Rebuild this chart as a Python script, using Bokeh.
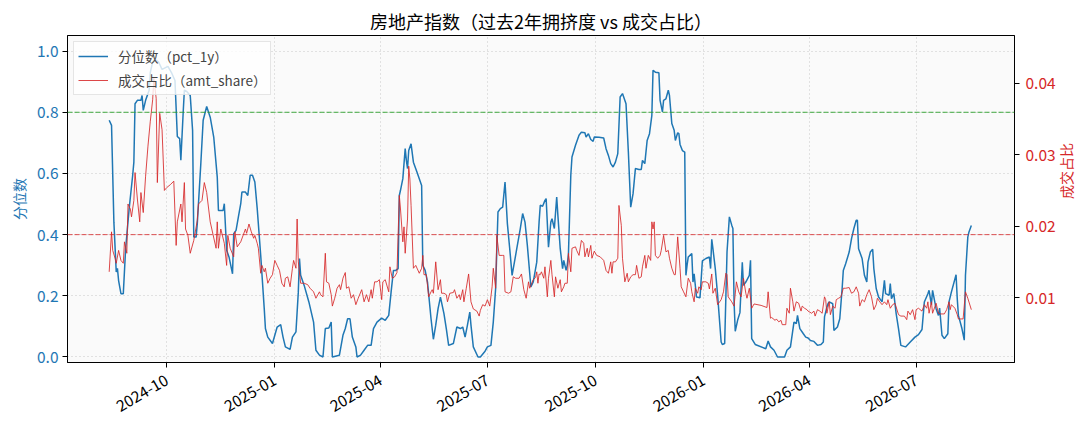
import math
import pandas as pd
from bokeh.plotting import figure
from bokeh.models import (Range1d, LinearAxis, FixedTicker, NumeralTickFormatter,
                          DatetimeTickFormatter, Span, Legend, LegendItem)
from bokeh.embed import file_html
from bokeh.resources import INLINE

FONT = "Noto Sans CJK SC"

# 分位数 (pct_1y)
pct_dates = [
    "2024-08-13", "2024-08-15", "2024-08-17", "2024-08-19", "2024-08-20", "2024-08-21", "2024-08-23",
    "2024-08-25", "2024-08-27", "2024-08-28", "2024-08-30", "2024-09-02", "2024-09-03", "2024-09-04",
    "2024-09-06", "2024-09-09", "2024-09-10", "2024-09-11", "2024-09-13", "2024-09-16", "2024-09-17",
    "2024-09-19", "2024-09-21", "2024-09-24", "2024-09-27", "2024-10-02", "2024-10-05", "2024-10-08",
    "2024-10-10", "2024-10-12", "2024-10-13", "2024-10-15", "2024-10-16", "2024-10-18", "2024-10-21",
    "2024-10-23", "2024-10-24", "2024-10-26", "2024-10-27", "2024-10-30", "2024-11-01", "2024-11-04",
    "2024-11-07", "2024-11-10", "2024-11-13", "2024-11-14", "2024-11-18", "2024-11-19", "2024-11-21",
    "2024-11-23", "2024-11-26", "2024-11-27", "2024-11-29", "2024-12-01", "2024-12-03", "2024-12-04",
    "2024-12-07", "2024-12-09", "2024-12-11", "2024-12-13", "2024-12-15", "2024-12-17", "2024-12-20",
    "2024-12-23", "2024-12-24", "2024-12-26", "2024-12-30", "2025-01-01", "2025-01-03", "2025-01-06",
    "2025-01-08", "2025-01-10", "2025-01-14", "2025-01-16", "2025-01-19", "2025-01-21", "2025-01-22",
    "2025-01-23", "2025-01-26", "2025-01-30", "2025-02-03", "2025-02-05", "2025-02-08", "2025-02-11",
    "2025-02-13", "2025-02-16", "2025-02-18", "2025-02-19", "2025-02-25", "2025-02-28", "2025-03-02",
    "2025-03-04", "2025-03-06", "2025-03-08", "2025-03-11", "2025-03-12", "2025-03-15", "2025-03-18",
    "2025-03-21", "2025-03-24", "2025-03-26", "2025-03-29", "2025-04-02", "2025-04-05", "2025-04-08",
    "2025-04-10", "2025-04-12", "2025-04-14", "2025-04-16", "2025-04-17", "2025-04-18", "2025-04-20",
    "2025-04-22", "2025-04-23", "2025-04-24", "2025-04-25", "2025-04-27", "2025-04-29", "2025-05-02",
    "2025-05-06", "2025-05-07", "2025-05-09", "2025-05-11", "2025-05-14", "2025-05-16", "2025-05-18",
    "2025-05-20", "2025-05-22", "2025-05-25", "2025-05-27", "2025-05-29", "2025-06-02", "2025-06-05",
    "2025-06-08", "2025-06-10", "2025-06-12", "2025-06-14", "2025-06-16", "2025-06-17", "2025-06-19",
    "2025-06-23", "2025-06-25", "2025-06-29", "2025-07-01", "2025-07-04", "2025-07-06", "2025-07-08",
    "2025-07-10", "2025-07-12", "2025-07-14", "2025-07-16", "2025-07-18", "2025-07-20", "2025-07-22",
    "2025-07-24", "2025-07-26", "2025-07-29", "2025-07-31", "2025-08-02", "2025-08-04", "2025-08-07",
    "2025-08-09", "2025-08-12", "2025-08-14", "2025-08-15", "2025-08-17", "2025-08-19", "2025-08-20",
    "2025-08-22", "2025-08-24", "2025-08-25", "2025-08-27", "2025-08-29", "2025-08-30", "2025-09-01",
    "2025-09-03", "2025-09-04", "2025-09-06", "2025-09-07", "2025-09-08", "2025-09-10", "2025-09-11",
    "2025-09-14", "2025-09-17", "2025-09-19", "2025-09-22", "2025-09-23", "2025-09-25", "2025-09-27",
    "2025-09-29", "2025-09-30", "2025-10-04", "2025-10-08", "2025-10-10", "2025-10-12", "2025-10-14",
    "2025-10-16", "2025-10-18", "2025-10-20", "2025-10-22", "2025-10-24", "2025-10-27", "2025-10-29",
    "2025-10-31", "2025-11-02", "2025-11-04", "2025-11-07", "2025-11-09", "2025-11-10", "2025-11-12",
    "2025-11-14", "2025-11-16", "2025-11-18", "2025-11-19", "2025-11-21", "2025-11-24", "2025-11-25",
    "2025-11-27", "2025-11-28", "2025-11-30", "2025-12-02", "2025-12-03", "2025-12-05", "2025-12-07",
    "2025-12-08", "2025-12-10", "2025-12-11", "2025-12-12", "2025-12-14", "2025-12-16", "2025-12-17",
    "2025-12-18", "2025-12-19", "2025-12-22", "2025-12-23", "2025-12-24", "2025-12-26", "2025-12-29",
    "2025-12-31", "2026-01-03", "2026-01-06", "2026-01-07", "2026-01-08", "2026-01-09", "2026-01-11",
    "2026-01-13", "2026-01-16", "2026-01-17", "2026-01-19", "2026-01-21", "2026-01-23", "2026-01-25",
    "2026-01-26", "2026-01-27", "2026-01-28", "2026-01-30", "2026-02-01", "2026-02-03", "2026-02-04",
    "2026-02-06", "2026-02-09", "2026-02-10", "2026-02-11", "2026-02-14", "2026-02-23", "2026-02-25",
    "2026-02-27", "2026-03-02", "2026-03-05", "2026-03-11", "2026-03-13", "2026-03-16", "2026-03-19",
    "2026-03-21", "2026-03-22", "2026-03-24", "2026-03-27", "2026-03-29", "2026-03-31", "2026-04-02",
    "2026-04-05", "2026-04-08", "2026-04-11", "2026-04-13", "2026-04-14", "2026-04-16", "2026-04-17",
    "2026-04-18", "2026-04-21", "2026-04-22", "2026-04-25", "2026-04-27", "2026-04-29", "2026-04-30",
    "2026-05-02", "2026-05-05", "2026-05-07", "2026-05-09", "2026-05-11", "2026-05-12", "2026-05-13",
    "2026-05-16", "2026-05-18", "2026-05-20", "2026-05-21", "2026-05-23", "2026-05-25", "2026-05-26",
    "2026-05-28", "2026-05-30", "2026-05-31", "2026-06-02", "2026-06-04", "2026-06-05", "2026-06-08",
    "2026-06-09", "2026-06-10", "2026-06-12", "2026-06-14", "2026-06-16", "2026-06-18", "2026-06-22",
    "2026-06-26", "2026-06-30", "2026-07-03", "2026-07-06", "2026-07-08", "2026-07-11", "2026-07-12",
    "2026-07-14", "2026-07-15", "2026-07-18", "2026-07-20", "2026-07-21", "2026-07-23", "2026-07-25",
    "2026-07-28", "2026-07-29", "2026-07-31", "2026-08-04", "2026-08-05", "2026-08-06", "2026-08-09",
    "2026-08-11", "2026-08-12", "2026-08-14", "2026-08-15", "2026-08-17",
]
pct_1y = [
    0.774, 0.757, 0.44, 0.278, 0.29, 0.25, 0.207,
    0.207, 0.355, 0.398, 0.485, 0.594, 0.637, 0.828,
    0.839, 0.839, 0.855, 0.806, 0.839, 0.872, 0.93,
    0.965, 0.972, 0.965, 0.94, 0.95, 0.93, 0.904,
    0.721, 0.714, 0.643, 0.80, 0.872, 0.868, 0.855,
    0.741, 0.392, 0.392, 0.436, 0.632, 0.774, 0.819,
    0.784, 0.719, 0.588, 0.479, 0.479, 0.501, 0.349,
    0.327, 0.272, 0.403, 0.414, 0.458, 0.501, 0.539,
    0.539, 0.528, 0.594, 0.594, 0.572, 0.486, 0.332,
    0.158, 0.093, 0.065, 0.044, 0.071, 0.098, 0.106,
    0.065, 0.033, 0.025, 0.065, 0.082, 0.212, 0.322,
    0.267, 0.234, 0.18, 0.114, 0.022, 0.006, 0.0,
    0.093, 0.095, 0.114, 0.0, 0.006, 0.071, 0.093,
    0.125, 0.125, 0.065, 0.033, 0.0, 0.006, 0.022,
    0.038, 0.038, 0.093, 0.114, 0.127, 0.12, 0.136,
    0.212, 0.283, 0.283, 0.289, 0.528, 0.545, 0.583,
    0.681, 0.643, 0.616, 0.675, 0.697, 0.637, 0.605,
    0.561, 0.3, 0.283, 0.245, 0.125, 0.058, 0.104,
    0.158, 0.196, 0.142, 0.093, 0.038, 0.044, 0.098,
    0.093, 0.098, 0.065, 0.104, 0.147, 0.104, 0.033,
    0.0, 0.0, 0.019, 0.033, 0.038, 0.114, 0.224,
    0.474, 0.485, 0.49, 0.572, 0.436, 0.354, 0.267,
    0.31, 0.354, 0.42, 0.469, 0.441, 0.365, 0.229,
    0.245, 0.31, 0.441, 0.496, 0.493, 0.512, 0.518,
    0.359, 0.441, 0.452, 0.42, 0.523, 0.463, 0.354,
    0.289, 0.316, 0.283, 0.3, 0.338, 0.594, 0.654,
    0.692, 0.725, 0.735, 0.733, 0.719, 0.73, 0.711,
    0.705, 0.719, 0.718, 0.716, 0.681, 0.659, 0.632,
    0.621, 0.637, 0.665, 0.85, 0.861, 0.828, 0.67,
    0.49, 0.534, 0.616, 0.613, 0.613, 0.643, 0.632,
    0.708, 0.73, 0.79, 0.937, 0.931, 0.929, 0.839,
    0.801, 0.839, 0.844, 0.872, 0.855, 0.763, 0.741,
    0.708, 0.733, 0.73, 0.695, 0.675, 0.67, 0.267,
    0.3, 0.327, 0.338, 0.245, 0.272, 0.196, 0.194,
    0.314, 0.322, 0.327, 0.289, 0.385, 0.354, 0.289,
    0.202, 0.049, 0.041, 0.044, 0.343, 0.458, 0.431,
    0.42, 0.18, 0.084, 0.12, 0.145, 0.31, 0.234,
    0.245, 0.267, 0.316, 0.06, 0.041, 0.027, 0.052,
    0.033, 0.022, 0.0, 0.0, 0.022, 0.033, 0.114,
    0.109, 0.136, 0.093, 0.076, 0.065, 0.062, 0.054,
    0.051, 0.038, 0.041, 0.049, 0.131, 0.163, 0.174,
    0.18, 0.174, 0.087, 0.098, 0.125, 0.224, 0.283,
    0.305, 0.343, 0.387, 0.42, 0.447, 0.447, 0.354,
    0.322, 0.267, 0.245, 0.31, 0.343, 0.352, 0.289,
    0.224, 0.196, 0.191, 0.18, 0.251, 0.207, 0.202,
    0.24, 0.191, 0.207, 0.142, 0.093, 0.038, 0.033,
    0.049, 0.065, 0.073, 0.09, 0.18, 0.207, 0.218,
    0.171, 0.218, 0.158, 0.136, 0.16, 0.071, 0.06,
    0.076, 0.18, 0.212, 0.269, 0.191, 0.136, 0.093,
    0.055, 0.267, 0.392, 0.409, 0.43,
]

# 成交占比 (amt_share)
amt_dates = [
    "2024-08-13", "2024-08-15", "2024-08-16", "2024-08-18", "2024-08-19", "2024-08-21", "2024-08-23",
    "2024-08-25", "2024-08-26", "2024-08-28", "2024-08-29", "2024-08-31", "2024-09-01", "2024-09-03",
    "2024-09-04", "2024-09-06", "2024-09-08", "2024-09-09", "2024-09-11", "2024-09-13", "2024-09-15",
    "2024-09-17", "2024-09-19", "2024-09-20", "2024-09-22", "2024-09-23", "2024-09-25", "2024-09-27",
    "2024-09-29", "2024-10-01", "2024-10-04", "2024-10-07", "2024-10-09", "2024-10-10", "2024-10-13",
    "2024-10-14", "2024-10-16", "2024-10-17", "2024-10-19", "2024-10-21", "2024-10-24", "2024-10-27",
    "2024-10-28", "2024-10-31", "2024-11-02", "2024-11-04", "2024-11-07", "2024-11-12", "2024-11-13",
    "2024-11-14", "2024-11-16", "2024-11-19", "2024-11-21", "2024-11-22", "2024-11-24", "2024-11-27",
    "2024-11-28", "2024-11-30", "2024-12-03", "2024-12-05", "2024-12-07", "2024-12-08", "2024-12-10",
    "2024-12-12", "2024-12-14", "2024-12-15", "2024-12-17", "2024-12-18", "2024-12-20", "2024-12-21",
    "2024-12-23", "2024-12-24", "2024-12-26", "2024-12-28", "2024-12-30", "2025-01-01", "2025-01-03",
    "2025-01-05", "2025-01-07", "2025-01-09", "2025-01-10", "2025-01-12", "2025-01-14", "2025-01-16",
    "2025-01-17", "2025-01-19", "2025-01-20", "2025-01-21", "2025-01-23", "2025-01-26", "2025-01-29",
    "2025-01-31", "2025-02-03", "2025-02-05", "2025-02-08", "2025-02-09", "2025-02-11", "2025-02-13",
    "2025-02-14", "2025-02-16", "2025-02-18", "2025-02-19", "2025-02-21", "2025-02-23", "2025-02-25",
    "2025-02-26", "2025-02-28", "2025-03-02", "2025-03-03", "2025-03-05", "2025-03-07", "2025-03-09",
    "2025-03-11", "2025-03-13", "2025-03-16", "2025-03-18", "2025-03-20", "2025-03-22", "2025-03-24",
    "2025-03-25", "2025-03-27", "2025-03-29", "2025-03-31", "2025-04-02", "2025-04-03", "2025-04-05",
    "2025-04-08", "2025-04-09", "2025-04-11", "2025-04-13", "2025-04-15", "2025-04-17", "2025-04-18",
    "2025-04-20", "2025-04-21", "2025-04-22", "2025-04-24", "2025-04-25", "2025-04-26", "2025-04-27",
    "2025-04-29", "2025-05-01", "2025-05-04", "2025-05-06", "2025-05-07", "2025-05-08", "2025-05-10",
    "2025-05-12", "2025-05-14", "2025-05-15", "2025-05-16", "2025-05-18", "2025-05-20", "2025-05-22",
    "2025-05-23", "2025-05-25", "2025-05-27", "2025-05-28", "2025-05-30", "2025-06-02", "2025-06-03",
    "2025-06-05", "2025-06-07", "2025-06-08", "2025-06-10", "2025-06-11", "2025-06-13", "2025-06-15",
    "2025-06-17", "2025-06-19", "2025-06-22", "2025-06-24", "2025-06-25", "2025-06-27", "2025-06-29",
    "2025-07-01", "2025-07-03", "2025-07-05", "2025-07-06", "2025-07-08", "2025-07-09", "2025-07-11",
    "2025-07-14", "2025-07-15", "2025-07-16", "2025-07-19", "2025-07-21", "2025-07-23", "2025-07-25",
    "2025-07-28", "2025-07-30", "2025-08-01", "2025-08-03", "2025-08-05", "2025-08-06", "2025-08-09",
    "2025-08-11", "2025-08-12", "2025-08-13", "2025-08-14", "2025-08-15", "2025-08-16", "2025-08-18",
    "2025-08-19", "2025-08-21", "2025-08-22", "2025-08-24", "2025-08-25", "2025-08-27", "2025-08-28",
    "2025-08-30", "2025-09-01", "2025-09-02", "2025-09-04", "2025-09-05", "2025-09-07", "2025-09-08",
    "2025-09-10", "2025-09-11", "2025-09-14", "2025-09-15", "2025-09-17", "2025-09-19", "2025-09-21",
    "2025-09-22", "2025-09-24", "2025-09-25", "2025-09-27", "2025-09-28", "2025-09-30", "2025-10-02",
    "2025-10-05", "2025-10-08", "2025-10-10", "2025-10-12", "2025-10-14", "2025-10-15", "2025-10-16",
    "2025-10-18", "2025-10-20", "2025-10-21", "2025-10-23", "2025-10-24", "2025-10-26", "2025-10-28",
    "2025-10-29", "2025-10-31", "2025-11-02", "2025-11-04", "2025-11-05", "2025-11-07", "2025-11-09",
    "2025-11-10", "2025-11-12", "2025-11-13", "2025-11-15", "2025-11-17", "2025-11-18", "2025-11-19",
    "2025-11-20", "2025-11-21", "2025-11-23", "2025-11-25", "2025-11-26", "2025-11-28", "2025-11-30",
    "2025-12-02", "2025-12-03", "2025-12-05", "2025-12-07", "2025-12-08", "2025-12-10", "2025-12-12",
    "2025-12-13", "2025-12-15", "2025-12-17", "2025-12-19", "2025-12-21", "2025-12-22", "2025-12-24",
    "2025-12-25", "2025-12-27", "2025-12-28", "2025-12-30", "2025-12-31", "2026-01-03", "2026-01-05",
    "2026-01-06", "2026-01-08", "2026-01-09", "2026-01-11", "2026-01-13", "2026-01-16", "2026-01-18",
    "2026-01-20", "2026-01-21", "2026-01-22", "2026-01-25", "2026-01-27", "2026-01-29", "2026-01-31",
    "2026-02-02", "2026-02-04", "2026-02-06", "2026-02-07", "2026-02-09", "2026-02-11", "2026-02-13",
    "2026-02-19", "2026-02-24", "2026-02-25", "2026-02-27", "2026-02-28", "2026-03-03", "2026-03-04",
    "2026-03-06", "2026-03-08", "2026-03-09", "2026-03-12", "2026-03-13", "2026-03-15", "2026-03-16",
    "2026-03-18", "2026-03-19", "2026-03-21", "2026-03-23", "2026-03-25", "2026-03-26", "2026-03-28",
    "2026-03-30", "2026-03-31", "2026-04-03", "2026-04-05", "2026-04-06", "2026-04-08", "2026-04-10",
    "2026-04-12", "2026-04-14", "2026-04-15", "2026-04-16", "2026-04-18", "2026-04-19", "2026-04-21",
    "2026-04-23", "2026-04-24", "2026-04-26", "2026-04-28", "2026-04-30", "2026-05-02", "2026-05-05",
    "2026-05-07", "2026-05-09", "2026-05-11", "2026-05-13", "2026-05-14", "2026-05-16", "2026-05-18",
    "2026-05-20", "2026-05-22", "2026-05-24", "2026-05-26", "2026-05-28", "2026-05-29", "2026-05-31",
    "2026-06-02", "2026-06-04", "2026-06-06", "2026-06-07", "2026-06-09", "2026-06-11", "2026-06-13",
    "2026-06-16", "2026-06-18", "2026-06-21", "2026-06-23", "2026-06-24", "2026-06-26", "2026-06-28",
    "2026-06-30", "2026-07-01", "2026-07-03", "2026-07-06", "2026-07-08", "2026-07-10", "2026-07-11",
    "2026-07-12", "2026-07-14", "2026-07-15", "2026-07-18", "2026-07-20", "2026-07-22", "2026-07-25",
    "2026-07-27", "2026-07-29", "2026-07-30", "2026-07-31", "2026-08-03", "2026-08-05", "2026-08-06",
    "2026-08-10", "2026-08-12", "2026-08-14", "2026-08-17",
]
amt_share = [
    0.0136, 0.0192, 0.0166, 0.0155, 0.0148, 0.0166, 0.0152,
    0.0148, 0.0178, 0.0162, 0.0231, 0.0224, 0.0213, 0.0236,
    0.0275, 0.0238, 0.0206, 0.0247, 0.0219, 0.027, 0.0312,
    0.0347, 0.0377, 0.0407, 0.0379, 0.0261, 0.0358, 0.0335,
    0.025, 0.0254, 0.0258, 0.0263, 0.0173, 0.0206, 0.0231,
    0.0206, 0.0261, 0.0196, 0.0187, 0.0162, 0.018, 0.0208,
    0.0231, 0.0236, 0.0261, 0.0247, 0.0206, 0.0169, 0.0206,
    0.0169, 0.0196, 0.0176, 0.0145, 0.0187, 0.0169, 0.0157,
    0.0192, 0.0171, 0.0178, 0.0187, 0.0196, 0.019, 0.0203,
    0.0192, 0.0183, 0.0187, 0.0176, 0.0169, 0.0134, 0.0145,
    0.0136, 0.0141, 0.012, 0.0127, 0.0132, 0.0152, 0.0145,
    0.0138, 0.012, 0.0115, 0.0127, 0.0129, 0.0115, 0.0141,
    0.0152, 0.0141, 0.021, 0.015, 0.012, 0.012, 0.0118,
    0.0113, 0.0108, 0.0099, 0.0108, 0.0104, 0.0101, 0.0162,
    0.0122, 0.012, 0.0104, 0.0088, 0.0099, 0.0113, 0.0118,
    0.0111, 0.0127, 0.0135, 0.0113, 0.0115, 0.0099, 0.0104,
    0.009, 0.0099, 0.0111, 0.0094, 0.0104, 0.0094, 0.0111,
    0.0099, 0.0122, 0.0122, 0.0125, 0.0097, 0.0122, 0.0125,
    0.0108, 0.0143, 0.0127, 0.0129, 0.0135, 0.0243, 0.0224,
    0.0178, 0.0199, 0.0162, 0.021, 0.0284, 0.0266, 0.0229,
    0.0141, 0.0145, 0.0134, 0.0141, 0.0159, 0.0132, 0.0132,
    0.0101, 0.0108, 0.0111, 0.0106, 0.015, 0.0111, 0.0125,
    0.0106, 0.0106, 0.0104, 0.0094, 0.0106, 0.0107, 0.0111,
    0.0099, 0.0104, 0.0097, 0.0111, 0.0094, 0.0113, 0.0133,
    0.0094, 0.0084, 0.0081, 0.0074, 0.0082, 0.009, 0.0088,
    0.0097, 0.0088, 0.0115, 0.0141, 0.0113, 0.0187, 0.0159,
    0.0159, 0.0159, 0.0108, 0.0106, 0.0108, 0.0129, 0.0127,
    0.0127, 0.0133, 0.0111, 0.0099, 0.0122, 0.0113, 0.0125,
    0.0128, 0.0136, 0.012, 0.0133, 0.0132, 0.0136, 0.0127,
    0.0143, 0.0101, 0.0127, 0.0152, 0.0132, 0.0101, 0.0129,
    0.0113, 0.0125, 0.0108, 0.0115, 0.012, 0.012, 0.0162,
    0.0136, 0.0169, 0.0171, 0.0166, 0.0159, 0.018, 0.0176,
    0.0157, 0.0169, 0.0157, 0.0173, 0.0155, 0.0165, 0.0159,
    0.0157, 0.0152, 0.0138, 0.0134, 0.015, 0.0134, 0.015,
    0.015, 0.0155, 0.0229, 0.0201, 0.0155, 0.0122, 0.0134,
    0.0122, 0.0129, 0.0132, 0.0132, 0.0145, 0.0127, 0.0129,
    0.0143, 0.0159, 0.0141, 0.0159, 0.0152, 0.0206, 0.0196,
    0.0206, 0.0159, 0.0155, 0.0159, 0.0166, 0.0187, 0.0164,
    0.0166, 0.0155, 0.0141, 0.0132, 0.0132, 0.0185, 0.0141,
    0.0115, 0.0108, 0.0101, 0.0127, 0.012, 0.0108, 0.0094,
    0.0113, 0.0106, 0.0115, 0.0111, 0.0122, 0.0122, 0.012,
    0.0112, 0.0133, 0.0106, 0.0113, 0.009, 0.0097, 0.0108,
    0.0134, 0.0132, 0.0101, 0.0094, 0.0088, 0.0122, 0.0108,
    0.0101, 0.0127, 0.0106, 0.0099, 0.0113, 0.0085, 0.0091,
    0.0089, 0.0086, 0.0108, 0.0071, 0.0072, 0.0068, 0.007,
    0.0066, 0.0068, 0.0062, 0.0062, 0.0085, 0.0078, 0.0113,
    0.0094, 0.0081, 0.0094, 0.0092, 0.0081, 0.0088, 0.0085,
    0.0083, 0.0081, 0.0078, 0.0081, 0.0074, 0.0083, 0.0081,
    0.0078, 0.0101, 0.0097, 0.0078, 0.0094, 0.0076, 0.0088,
    0.0085, 0.0097, 0.0099, 0.0101, 0.0113, 0.0113, 0.0114,
    0.0106, 0.0108, 0.0115, 0.0106, 0.0088, 0.0097, 0.0094,
    0.0104, 0.0111, 0.0101, 0.0083, 0.009, 0.0099, 0.0094,
    0.009, 0.0094, 0.009, 0.0097, 0.0085, 0.009, 0.0092,
    0.0076, 0.0074, 0.0074, 0.0069, 0.0081, 0.0076, 0.0083,
    0.0069, 0.0083, 0.0085, 0.0081, 0.009, 0.0085, 0.0094,
    0.0078, 0.0094, 0.0078, 0.0092, 0.0078, 0.0077, 0.0077,
    0.0083, 0.0094, 0.0083, 0.009, 0.0085, 0.0076, 0.007,
    0.007, 0.0108, 0.0099, 0.0083,
]

x_tick_labels = ["2024-10", "2025-01", "2025-04", "2025-07", "2025-10", "2026-01", "2026-04", "2026-07"]
left_ticks = [0.0, 0.2, 0.4, 0.6, 0.8, 1.0]
right_ticks = [0.01, 0.02, 0.03, 0.04]
high_level = 0.8
low_level = 0.4

BLUE = "#1f77b4"
RED = "#d62728"

pct_x = pd.to_datetime(pct_dates)
amt_x = pd.to_datetime(amt_dates)
x_ticks = [pd.Timestamp(t + "-01").value / 1e6 for t in x_tick_labels]

p = figure(
    width=1088, height=428,
    x_axis_type="datetime",
    x_range=Range1d(pd.Timestamp("2024-07-08 12:00"), pd.Timestamp("2026-09-22 18:00")),
    y_range=Range1d(-0.018, 1.051),
    title="房地产指数（过去2年拥挤度 vs 成交占比）",
    output_backend="svg", toolbar_location=None,
    min_border_left=67, min_border_right=74, min_border_top=35, min_border_bottom=66,
)
p.extra_y_ranges = {"amt": Range1d(0.0009, 0.0467)}

p.background_fill_color = "#fafafa"
p.border_fill_color = "white"
p.outline_line_color = "black"
p.outline_line_width = 1

p.title.align = "center"
p.title.text_font = FONT
p.title.text_font_size = "18px"
p.title.text_font_style = "normal"
p.title.text_color = "black"
p.title.standoff = 4
p.title.offset = 13

# axes
xax = p.xaxis[0]
xax.ticker = FixedTicker(ticks=x_ticks)
xax.formatter = DatetimeTickFormatter(days="%Y-%m", months="%Y-%m", years="%Y-%m")
xax.major_label_orientation = math.pi / 6

yax = p.yaxis[0]
yax.ticker = FixedTicker(ticks=left_ticks)
yax.formatter = NumeralTickFormatter(format="0.0")
yax.axis_label = "分位数"
yax.axis_label_text_color = BLUE
yax.major_label_text_color = BLUE

rax = LinearAxis(y_range_name="amt", ticker=FixedTicker(ticks=right_ticks),
                 formatter=NumeralTickFormatter(format="0.00"))
rax.major_label_text_color = RED
rax.axis_label = "成交占比"
rax.axis_label_text_color = RED
rax.axis_label_text_align = "center"
if "axis_label_orientation" in LinearAxis.properties():
    rax.axis_label_orientation = math.pi / 2
p.add_layout(rax, "right")

for ax in (xax, yax, rax):
    ax.axis_line_color = "black"
    ax.major_tick_line_color = "black"
    ax.major_tick_out = 5
    ax.major_tick_in = 0
    ax.minor_tick_line_color = None
    ax.major_label_text_font = FONT
    ax.major_label_text_font_size = "15.5px"
    ax.major_label_standoff = 4
    ax.axis_label_text_font = FONT
    ax.axis_label_text_font_size = "14px"
    ax.axis_label_text_font_style = "normal"
xax.major_label_text_color = "black"
xax.major_label_standoff = 11
yax.axis_label_standoff = 5
rax.major_label_standoff = 6
rax.axis_label_standoff = 7

p.xgrid.ticker = FixedTicker(ticks=x_ticks)
p.ygrid.ticker = FixedTicker(ticks=left_ticks)
for g in (p.xgrid, p.ygrid):
    g.grid_line_color = "#c8c8c8"
    g.grid_line_dash = "1 3"
    g.grid_line_width = 1

# threshold lines
p.add_layout(Span(location=high_level, dimension="width", line_color="#2ca02c",
                  line_dash="5 2", line_width=1, line_alpha=0.9))
p.add_layout(Span(location=low_level, dimension="width", line_color=RED,
                  line_dash="5 2", line_width=1, line_alpha=0.8))

r_pct = p.line(pct_x, pct_1y, line_color=BLUE, line_width=1.5)
r_amt = p.line(amt_x, amt_share, line_color=RED, line_width=1, line_alpha=0.85,
               y_range_name="amt")

legend = Legend(items=[LegendItem(label="分位数（pct_1y）", renderers=[r_pct]),
                       LegendItem(label="成交占比（amt_share）", renderers=[r_amt])],
                location="top_left")
legend.label_text_font = FONT
legend.label_text_font_size = "13.5px"
legend.background_fill_color = "white"
legend.background_fill_alpha = 0.8
legend.border_line_color = "#cccccc"
legend.margin = 6
legend.padding = 4
legend.spacing = 4
legend.glyph_width = 30
legend.glyph_height = 20
legend.label_height = 20
legend.label_standoff = 10
p.add_layout(legend)

open("out.html", "w").write(file_html(p, INLINE))
